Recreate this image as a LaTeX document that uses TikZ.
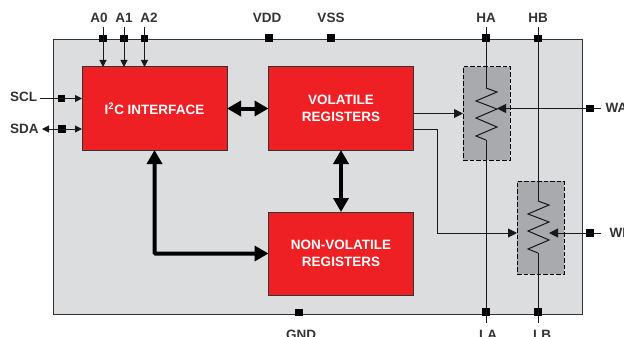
\documentclass[tikz,border=0pt]{standalone}
\usepackage{fontspec}
\setmainfont{Liberation Sans}
\usepackage{xcolor}
\usetikzlibrary{positioning, calc, arrows.meta}
\definecolor{chipgray}{HTML}{DCDDDF}
\definecolor{potgray}{HTML}{A9AAAD}
\definecolor{blockred}{HTML}{EE2024}
\definecolor{inkgray}{HTML}{333333}
\tikzset{
  blockbox/.style={draw=inkgray, fill=blockred, line width=1pt, text=white, align=center,
    font=\bfseries\fontsize{13.5}{17}\selectfont, minimum width=145pt, minimum height=83pt,
    inner sep=0pt, outer sep=0pt},
  potbox/.style={draw=black, dash pattern=on 4.5pt off 2pt, fill=potgray, line width=1pt,
    minimum width=47pt, minimum height=93pt, inner sep=0pt, outer sep=0pt},
  padbox/.style={fill=black, minimum size=7.5pt, inner sep=0pt, outer sep=0pt},
  pinlabel/.style={text=inkgray, font=\bfseries\fontsize{13.5}{14}\selectfont, inner sep=0pt},
  sig/.style={line width=1pt, draw=black!90},
  thinarrow/.style={sig, -{Triangle[length=7pt,width=7pt]}},
  thinboth/.style={sig, {Triangle[length=7pt,width=7pt]}-{Triangle[length=7pt,width=7pt]}},
  wiperarrow/.style={sig, -{Triangle[length=9pt,width=9pt]}},
  bus/.style={line width=4pt, draw=black, {Triangle[length=14pt,width=15pt]}-{Triangle[length=14pt,width=15pt]}},
}
% zigzag of one potentiometer, hung from its top point
\newcommand{\wiperzig}[1]{
  \draw[sig, line join=miter] (#1) -- ++(11,4) -- ++(-21,9) -- ++(21,8) -- ++(-21,9)
    -- ++(21,9) -- ++(-21,9) -- ++(10,4);
}
\begin{document}
\begin{tikzpicture}[x=1pt, y=-1pt]
  \useasboundingbox (0,0) rectangle (624,337);

  % Chip outline
  \node[draw=inkgray, fill=chipgray, line width=1pt, minimum width=528.5pt, minimum height=274pt,
        inner sep=0pt, outer sep=0pt] (chip) at (317.75,177) {};

  % Main blocks
  \node[blockbox] (i2c) at (154.5,108.5) {I\textsuperscript{2}C INTERFACE};
  \node[blockbox] (volatile) at (341,108.5) {VOLATILE\\REGISTERS};
  \node[blockbox] (nonvol) at (341,253.5) {NON-VOLATILE\\REGISTERS};

  % Potentiometer cells
  \node[potbox] (potA) at (486.5,113.5) {};
  \node[potbox] (potB) at (540.5,227.5) {};
  \coordinate (zigAtop) at (486,88);
  \coordinate (zigAbot) at (486,140);
  \coordinate (zigBtop) at (538,201);
  \coordinate (zigBbot) at (538,253);

  % Pads
  \node[padbox] (a0) at (103,38.5) {};
  \node[padbox] (a1) at (124,38.5) {};
  \node[padbox] (a2) at (144.5,38.5) {};
  \node[padbox] (vdd) at (269,38) {};
  \node[padbox] (vss) at (331,38) {};
  \node[padbox] (ha) at (486,38) {};
  \node[padbox] (hb) at (538,38.5) {};
  \node[padbox] (scl) at (61.5,98.5) {};
  \node[padbox] (sda) at (62,129) {};
  \node[padbox] (wa) at (590,108.5) {};
  \node[padbox] (wb) at (590,233) {};
  \node[padbox] (gnd) at (299,312.5) {};
  \node[padbox] (la) at (486,312) {};
  \node[padbox] (lb) at (538,312) {};

  % Pin labels
  \node[pinlabel] (a0txt) at (99,18) {A0};
  \node[pinlabel] (a1txt) at (124,18) {A1};
  \node[pinlabel] (a2txt) at (149,18) {A2};
  \node[pinlabel] (vddtxt) at (267,18) {VDD};
  \node[pinlabel] (vsstxt) at (331,18) {VSS};
  \node[pinlabel] (hatxt) at (486,18) {HA};
  \node[pinlabel] (hbtxt) at (538,18) {HB};
  \node[pinlabel, anchor=west] (scltxt) at (10,97) {SCL};
  \node[pinlabel, anchor=west] (sdatxt) at (10,128.5) {SDA};
  \node[pinlabel, anchor=west] (watxt) at (605.5,108) {WA};
  \node[pinlabel, anchor=west] (wbtxt) at (609.5,233) {WB};
  \node[pinlabel] (gndtxt) at (301,335) {GND};
  \node[pinlabel] (latxt) at (488,335) {LA};
  \node[pinlabel] (lbtxt) at (542,335) {LB};

  % Free ends of the pad stubs
  \coordinate (a0end) at (103,27);
  \coordinate (a1end) at (124,27);
  \coordinate (a2end) at (144.5,27);
  \coordinate (haend) at (486,27);
  \coordinate (hbend) at (538,27);
  \coordinate (sclend) at (40,98.5);
  \coordinate (sdaend) at (42,129);
  \coordinate (waend) at (601,108.5);
  \coordinate (wbend) at (601,233);
  \coordinate (laend) at (486,323);
  \coordinate (lbend) at (538,323);

  % Address and serial lines
  \draw[thinarrow] (a0end) -- (a0end |- i2c.north);
  \draw[thinarrow] (a1end) -- (a1end |- i2c.north);
  \draw[thinarrow] (a2end) -- (a2end |- i2c.north);
  \draw[thinarrow] (sclend) -- (sclend -| i2c.west);
  \draw[thinboth] (sdaend) -- (sdaend -| i2c.west);

  % Resistor lines
  \draw[sig] (haend) -- (zigAtop);
  \draw[sig] (zigAbot) -- (laend);
  \draw[sig] (hbend) -- (zigBtop);
  \draw[sig] (zigBbot) -- (lbend);
  \wiperzig{zigAtop}
  \wiperzig{zigBtop}

  % Wiper lines
  \draw[wiperarrow] (volatile.east |- potA.west) -- (potA.west);
  \draw[wiperarrow] ($(volatile.east)+(0,20.5)$) -| (437,233) -- (wb -| potB.west);
  \draw[wiperarrow] (waend) -- (497,108.5);
  \draw[wiperarrow] (wbend) -- (549,233);

  % Internal buses
  \draw[bus] (i2c) -- (volatile);
  \draw[bus] (volatile) -- (nonvol);
  \draw[bus, rounded corners=1pt] (i2c) |- (nonvol);
\end{tikzpicture}
\end{document}
